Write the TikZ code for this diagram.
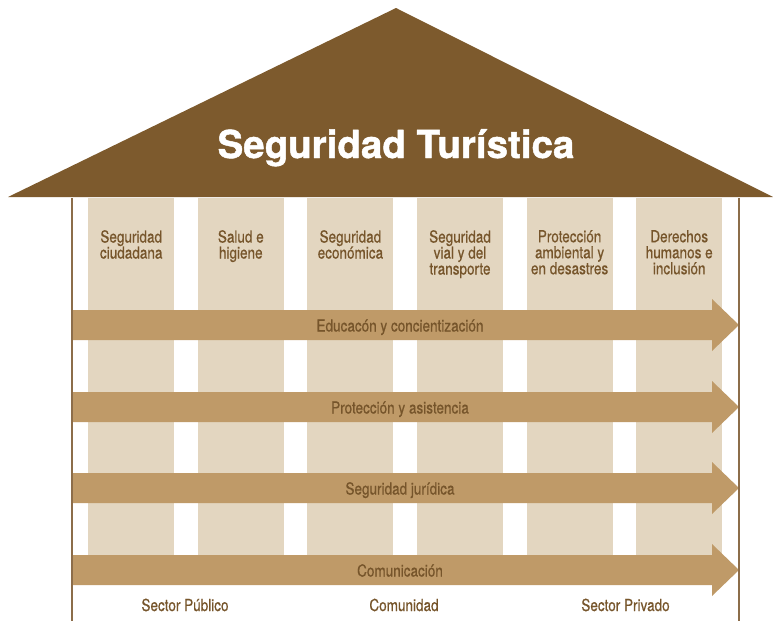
\documentclass[tikz,border=0pt]{standalone}
\usepackage{fontspec}
\setmainfont{TeX Gyre Heros}
\newfontfamily\condfont{TeX Gyre Heros}[FakeStretch=0.82, FakeBold=0.6]
\newfontfamily\titlefont{TeX Gyre Heros Bold}[FakeBold=1.2]
\definecolor{roofbrown}{HTML}{7D5A2D}
\definecolor{pillarfill}{HTML}{E3D6C0}
\definecolor{bandfill}{HTML}{BF9A68}
\definecolor{textbrown}{HTML}{76552B}
\definecolor{wallbrown}{HTML}{8C6D4A}
\begin{document}
\begin{tikzpicture}[x=1pt, y=-1pt, line join=round, line cap=round,
		pillar/.style={fill=pillarfill, inner sep=0pt, minimum width=86pt, minimum height=372pt, anchor=north west},
		pillarlabel/.style={text=textbrown, inner sep=0pt, align=center, anchor=north, font=\condfont\fontsize{16.5}{16}\selectfont},
		bandlabel/.style={text=textbrown, inner sep=0pt, anchor=base, font=\condfont\fontsize{16.5}{16}\selectfont}]
	\useasboundingbox (0,0) rectangle (773,621);
	\def\tipx{739}; \def\headx{712};
	\path
	(8,197) coordinate (RL)
	(396,8) coordinate (RT)
	(773,197) coordinate (RR)
	(72,198) coordinate (WL)
	(72,621) coordinate (WLb)
	(739,198) coordinate (WR)
	(739,621) coordinate (WRb)
	;
	% pillars
	\foreach \i/\t in {0/{Seguridad\\ciudadana},1/{Salud e\\higiene},2/{Seguridad\\económica},3/{Seguridad\\vial y del\\transporte},4/{Protección\\ambiental y\\en desastres},5/{Derechos\\humanos e\\inclusión}}
	{
		\node[pillar] (p\i) at ({88+109.6*\i},198) {};
		\node[pillarlabel] (l\i) at ([yshift=-32pt]p\i.north) {\t};
	}
	% bands
	\foreach \i/\y/\t in {1/325/Educacón y concientización,2/407/Protección y asistencia,3/488/Seguridad jurídica,4/570/Comunicación}
	{
		\fill[bandfill] (72,\y-15) -- (\headx,\y-15) -- (\headx,\y-26) -- (\tipx,\y) -- (\headx,\y+26) -- (\headx,\y+15) -- (72,\y+15) -- cycle;
		\node[bandlabel] (b\i) at (400,\y+6.5) {\t};
	}
	% walls and roof
	\draw[wallbrown, line width=1.5pt, line cap=butt] (WL)--(WLb) (WR)--(WRb);
	\fill[roofbrown] (RL)--(RT)--(RR)--cycle;
	\node[text=white, inner sep=0pt, anchor=base, font=\titlefont\fontsize{38.5}{40}\selectfont] (title) at (396,158) {Seguridad Turística};
	\foreach \n/\x/\t in {pub/185/Sector Público,com/404/Comunidad,pri/625.5/Sector Privado}
		\node[bandlabel] (s\n) at (\x,611) {\t};
\end{tikzpicture}
\end{document}
